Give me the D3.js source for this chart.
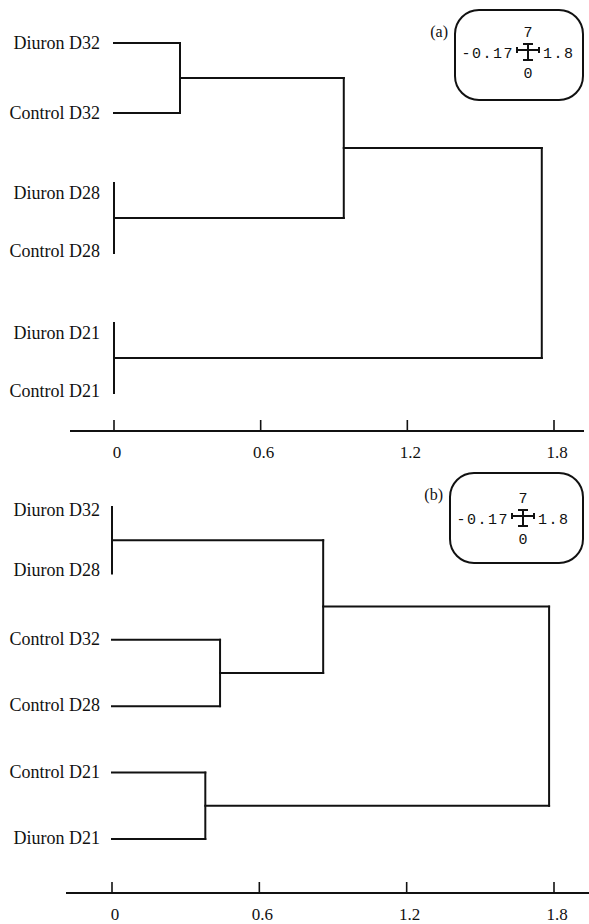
<!DOCTYPE html>
<html><head><meta charset="utf-8">
<script src="https://cdnjs.cloudflare.com/ajax/libs/d3/7.8.5/d3.min.js"></script>
<style>body{margin:0;background:#fff}svg{display:block}</style>
</head><body>
<svg id="c" width="589" height="924"></svg>
<script>
// ---------- data ----------
const ticks = [0, 0.6, 1.2, 1.8];

const leavesA = ["Diuron D32", "Control D32", "Diuron D28", "Control D28", "Diuron D21", "Control D21"];
// [left child, right child, merge distance, node name]
const mergesA = [
  ["Diuron D32", "Control D32", 0.27, "a1"],
  ["Diuron D28", "Control D28", 0.0, "a2"],
  ["a1", "a2", 0.94, "a3"],
  ["Diuron D21", "Control D21", 0.0, "a4"],
  ["a3", "a4", 1.75, "a5"]
];

const leavesB = ["Diuron D32", "Diuron D28", "Control D32", "Control D28", "Control D21", "Diuron D21"];
const mergesB = [
  ["Diuron D32", "Diuron D28", 0.0, "b1"],
  ["Control D32", "Control D28", 0.44, "b2"],
  ["b1", "b2", 0.86, "b3"],
  ["Control D21", "Diuron D21", 0.38, "b4"],
  ["b3", "b4", 1.78, "b5"]
];

const insetA = {tag: "(a)", top: "7", left: "-0.17", right: "1.8", bottom: "0"};
const insetB = {tag: "(b)", top: "7", left: "-0.17", right: "1.8", bottom: "0"};

// ---------- drawing ----------
const svg = d3.select("#c");
svg.append("rect").attr("width", 589).attr("height", 924).attr("fill", "#fff");
const ink = "#111";
const serif = "'Liberation Serif','Times New Roman',serif";
const mono = "'Liberation Mono','Courier New',monospace";

function panel(cfg) {
  const g = svg.append("g");
  const x = d3.scaleLinear().domain([0, 1.8]).range(cfg.xr);
  const y = d3.scalePoint().domain(cfg.leaves).range(cfg.yr);

  const nodes = {};
  cfg.leaves.forEach(l => nodes[l] = {name: l, h: 0, y: y(l), leaf: true});
  cfg.merges.forEach(([a, b, h, n]) => {
    nodes[n] = {name: n, h: h, y: (nodes[a].y + nodes[b].y) / 2, kids: [nodes[a], nodes[b]]};
  });

  const segs = [];
  cfg.merges.forEach(([a, b, h, n]) => {
    const A = nodes[a], B = nodes[b];
    segs.push([x(h), A.y, x(h), B.y]);
    if (h > 0) {
      segs.push([x(A.h), A.y, x(h), A.y]);
      segs.push([x(B.h), B.y, x(h), B.y]);
    }
  });
  g.selectAll("line.seg").data(segs).join("line")
    .attr("x1", d => d[0]).attr("y1", d => d[1])
    .attr("x2", d => d[2]).attr("y2", d => d[3])
    .attr("stroke", ink).attr("stroke-width", 2).attr("stroke-linecap", "square");

  // label nudges for leaves joined at zero distance
  const zeroFirst = new Set(), zeroSecond = new Set();
  cfg.merges.forEach(([a, b, h]) => { if (h === 0) { zeroFirst.add(a); zeroSecond.add(b); } });

  g.selectAll("text.leaf").data(cfg.leaves).join("text")
    .attr("x", cfg.labelX)
    .attr("y", d => y(d) + 6 + (zeroFirst.has(d) ? cfg.nudge : 0) + (zeroSecond.has(d) ? -2 : 0) + cfg.lblDy)
    .attr("text-anchor", "end")
    .attr("font-family", serif).attr("font-size", 18).attr("fill", ink)
    .text(d => d);

  // axis
  const ax = g.append("g").attr("transform", `translate(0,${cfg.axisY})`);
  ax.append("line").attr("x1", cfg.axisX[0]).attr("x2", cfg.axisX[1])
    .attr("stroke", ink).attr("stroke-width", 2);
  ax.selectAll("line.t").data(ticks).join("line").attr("class", "t")
    .attr("x1", d => x(d)).attr("x2", d => x(d)).attr("y1", 0).attr("y2", -11)
    .attr("stroke", ink).attr("stroke-width", 1.6);
  ax.selectAll("text").data(ticks).join("text")
    .attr("x", d => x(d) + 3).attr("y", 27)
    .attr("text-anchor", "middle").attr("font-family", serif).attr("font-size", 17).attr("fill", ink)
    .text(d => d3.format("")(d));

  // inset
  const ins = cfg.inset, b = cfg.box;
  const ig = g.append("g");
  ig.append("rect").attr("x", b[0]).attr("y", b[1]).attr("width", b[2]).attr("height", b[3])
    .attr("rx", 24).attr("ry", 24).attr("fill", "none").attr("stroke", ink).attr("stroke-width", 2);
  ig.append("text").attr("x", b[0] - 7).attr("y", b[1] + 27).attr("text-anchor", "end")
    .attr("font-family", serif).attr("font-size", 16).attr("fill", ink).text(ins.tag);
  const cx = cfg.cross[0], cy = cfg.cross[1];
  const mt = g => g.attr("font-family", mono).attr("font-size", 15).attr("fill", ink);
  ig.append("text").attr("x", cx).attr("y", cy - 16).attr("text-anchor", "middle").call(mt).text(ins.top);
  ig.append("text").attr("x", cx).attr("y", cy + 25).attr("text-anchor", "middle").call(mt).text(ins.bottom);
  ig.append("text").attr("x", cx - 14).attr("y", cy + 5).attr("text-anchor", "end")
    .attr("letter-spacing", 1.5).call(mt).text(ins.left);
  ig.append("text").attr("x", cx + 15).attr("y", cy + 5).attr("text-anchor", "start")
    .attr("letter-spacing", 1.5).call(mt).text(ins.right);
  const cr = [
    [cx, cy - 9, cx, cy + 7], [cx - 5, cy - 9, cx + 5, cy - 9], [cx - 5, cy + 7, cx + 5, cy + 7],
    [cx - 11, cy - 3, cx + 11, cy - 3], [cx - 11, cy - 6, cx - 11, cy], [cx + 11, cy - 6, cx + 11, cy]
  ];
  ig.selectAll("line").data(cr).join("line")
    .attr("x1", d => d[0]).attr("y1", d => d[1]).attr("x2", d => d[2]).attr("y2", d => d[3])
    .attr("stroke", ink).attr("stroke-width", 2);
}

panel({leaves: leavesA, merges: mergesA, xr: [114, 554], yr: [43, 393], labelX: 100, nudge: 10, lblDy: 0,
  axisY: 431, axisX: [70, 584], inset: insetA, box: [455, 10, 128, 90], cross: [528, 53]});
panel({leaves: leavesB, merges: mergesB, xr: [112, 554], yr: [507, 839], labelX: 100, nudge: 4, lblDy: -1,
  axisY: 893, axisX: [66, 589], inset: insetB, box: [450, 473, 133, 90], cross: [523, 519]});
</script>
</body></html>
